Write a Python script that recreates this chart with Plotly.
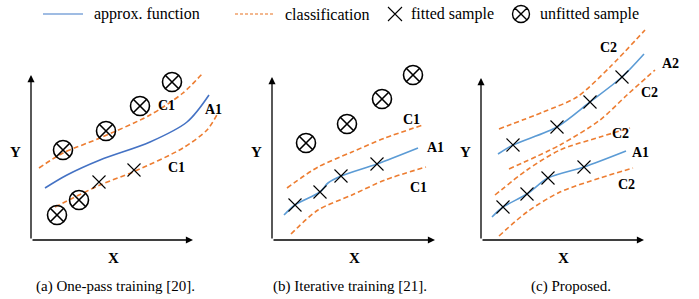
import plotly.graph_objects as go

W, H = 699, 299
FONT = "Liberation Serif, Times New Roman, serif"
BLUE_A = "#4472C4"
BLUE = "#5B9BD5"
ORANGE = "#ED7D31"

# ---------- panel (a) ----------
a_axes = dict(ox=31, oy=240, xend=193, ytop=75)
a_fit_x = [45, 67, 100, 150, 187, 209]
a_fit_y = [188, 175, 160, 142, 122, 95]
a_up_x = [39, 63, 100, 150, 183, 203]
a_up_y = [168, 153, 138, 115, 93, 73]
a_lo_x = [55, 100, 133, 183, 207, 218]
a_lo_y = [207, 185, 172, 148, 130, 113]
a_circ_x = [57, 79, 63, 106, 140, 172]
a_circ_y = [215, 200, 150, 131, 106, 82]
a_cross_x = [99, 134]
a_cross_y = [182, 170]
a_labels = [("C1", 166, 105), ("A1", 213, 109), ("C1", 176, 167)]

# ---------- panel (b) ----------
b_axes = dict(ox=272, oy=240, xend=435, ytop=77)
b_fit_x = [284, 295, 320, 328, 341, 377, 418]
b_fit_y = [215, 205, 192, 183, 176, 164, 148]
b_up_x = [287, 318, 352, 385, 423]
b_up_y = [188, 167, 152, 138, 125]
b_lo_x = [291, 318, 352, 385, 426]
b_lo_y = [234, 210, 195, 180, 167]
b_circ_x = [306, 347, 382, 413]
b_circ_y = [143, 124, 99, 75]
b_cross_x = [295, 320, 341, 377]
b_cross_y = [205, 192, 176, 164]
b_labels = [("C1", 411, 119), ("A1", 435, 147), ("C1", 418, 187)]

# ---------- panel (c) ----------
c_axes = dict(ox=481, oy=240, xend=644, ytop=78)
c_fit2_x = [498, 513, 557, 590, 622, 644]
c_fit2_y = [154, 145, 127, 102, 77, 54]
c_up2_x = [499, 543, 577, 610, 645]
c_up2_y = [129, 112, 97, 67, 30]
c_lo2_x = [509, 560, 600, 627, 655]
c_lo2_y = [169, 145, 120, 95, 70]
c_fit1_x = [492, 503, 527, 548, 584, 626]
c_fit1_y = [217, 207, 194, 178, 167, 151]
c_up1_x = [495, 527, 560, 600, 630]
c_up1_y = [195, 170, 150, 137, 128]
c_lo1_x = [499, 527, 560, 600, 633]
c_lo1_y = [236, 212, 192, 178, 168]
c_cross_x = [513, 557, 590, 622, 503, 527, 548, 584]
c_cross_y = [145, 127, 102, 77, 207, 194, 178, 167]
c_labels = [("C2", 608, 47), ("A2", 670, 63), ("C2", 649, 92),
            ("C2", 620, 133), ("A1", 640, 152), ("C2", 626, 184)]

captions = [("(a) One-pass training [20].", 115), ("(b) Iterative training [21].", 350),
            ("(c) Proposed.", 571)]

legend_texts = ["approx. function", "classification", "fitted sample", "unfitted sample"]

fig = go.Figure()


def line(x, y, color, dash=None, width=1.6, shape="spline", smoothing=0.8):
    fig.add_trace(go.Scatter(x=x, y=y, mode="lines",
                             line=dict(color=color, width=width, dash=dash, shape=shape,
                                       smoothing=smoothing),
                             hoverinfo="skip", showlegend=False))


def crosses(x, y, size=13):
    fig.add_trace(go.Scatter(x=x, y=y, mode="markers",
                             marker=dict(symbol="x-thin-open", size=size, color="black",
                                         line=dict(width=1.1, color="black")),
                             hoverinfo="skip", showlegend=False))


def circles(x, y, size=19, lw=1.6):
    fig.add_trace(go.Scatter(x=x, y=y, mode="markers",
                             marker=dict(symbol="circle-x-open", size=size, color="black",
                                         line=dict(width=lw, color="black")),
                             hoverinfo="skip", showlegend=False))


DASH = "5px,3px"
annotations = []


def axes(ax):
    for (hx, hy, tx, ty) in [(ax["xend"], ax["oy"], ax["ox"], ax["oy"]),
                             (ax["ox"], ax["ytop"], ax["ox"], ax["oy"])]:
        annotations.append(dict(x=hx, y=hy, ax=tx, ay=ty, xref="x", yref="y",
                                axref="x", ayref="y", showarrow=True, arrowhead=2,
                                arrowsize=1.1, arrowwidth=1.3, arrowcolor="black", text=""))
    annotations.append(dict(x=ax["ox"] - 16, y=152, text="<b>Y</b>",
                            showarrow=False, xref="x", yref="y",
                            font=dict(family=FONT, size=15, color="black")))
    annotations.append(dict(x=(ax["ox"] + ax["xend"]) / 2 + 1, y=ax["oy"] + 18, text="<b>X</b>",
                            showarrow=False, xref="x", yref="y",
                            font=dict(family=FONT, size=15, color="black")))


def labels(lst):
    for t, x, y in lst:
        annotations.append(dict(x=x, y=y, text="<b>%s</b>" % t, showarrow=False, xref="x", yref="y",
                                font=dict(family=FONT, size=14, color="black")))


# panel a
axes(a_axes)
line(a_up_x, a_up_y, ORANGE, DASH)
line(a_lo_x, a_lo_y, ORANGE, DASH)
line(a_fit_x, a_fit_y, BLUE_A, smoothing=0.9)
circles(a_circ_x, a_circ_y)
crosses(a_cross_x, a_cross_y)
labels(a_labels)

# panel b
axes(b_axes)
line(b_up_x, b_up_y, ORANGE, DASH)
line(b_lo_x, b_lo_y, ORANGE, DASH)
line(b_fit_x, b_fit_y, BLUE)
circles(b_circ_x, b_circ_y)
crosses(b_cross_x, b_cross_y)
labels(b_labels)

# panel c
axes(c_axes)
for xs, ys in [(c_up2_x, c_up2_y), (c_lo2_x, c_lo2_y), (c_up1_x, c_up1_y), (c_lo1_x, c_lo1_y)]:
    line(xs, ys, ORANGE, DASH)
line(c_fit2_x, c_fit2_y, BLUE)
line(c_fit1_x, c_fit1_y, BLUE)
crosses(c_cross_x, c_cross_y)
labels(c_labels)

# legend
leg_y = 14
line([43, 83], [leg_y, leg_y], "#7FA6DA", None, 1.3, "linear")
line([235, 273], [leg_y, leg_y], "#F0A06A", "3px,2px", 1.3, "linear")
crosses([395], [leg_y], 14)
circles([521], [leg_y], 17, 1.4)
for t, x in zip(legend_texts, [92, 283, 409, 538]):
    annotations.append(dict(x=x, y=leg_y, text=t, showarrow=False, xref="x", yref="y",
                            xanchor="left", yanchor="middle",
                            font=dict(family=FONT, size=16, color="black")))

for t, x in captions:
    annotations.append(dict(x=x, y=286, text=t, showarrow=False, xref="x", yref="y",
                            font=dict(family=FONT, size=15, color="black")))

fig.update_layout(width=W, height=H, margin=dict(l=0, r=0, t=0, b=0),
                  paper_bgcolor="white", plot_bgcolor="white", showlegend=False,
                  annotations=annotations,
                  xaxis=dict(range=[0, W], visible=False, fixedrange=True),
                  yaxis=dict(range=[H, 0], visible=False, fixedrange=True))
fig.write_html("out.html", config={"displayModeBar": False},
               post_script="document.body.style.margin='0';document.body.style.overflow='hidden';")
